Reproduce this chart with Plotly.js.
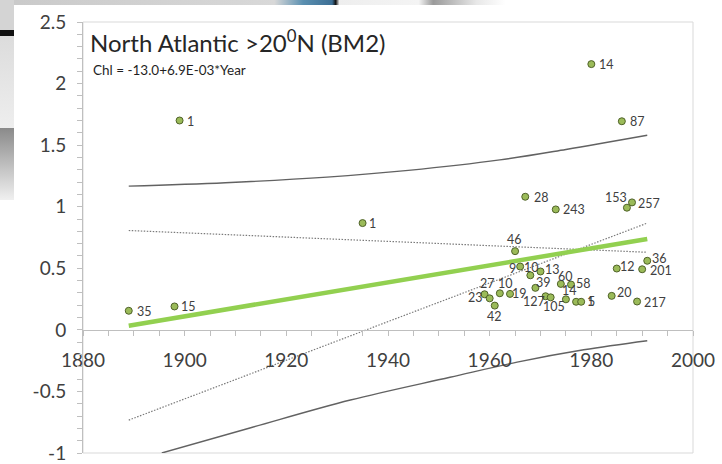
<!DOCTYPE html>
<html>
<head>
<meta charset="utf-8">
<script src="https://cdn.plot.ly/plotly-3.0.1.min.js"></script>
<style>
  html, body { margin: 0; padding: 0; width: 722px; height: 464px; overflow: hidden; background: #ffffff; }
  .bg { position: absolute; }
  #chart { position: absolute; left: 0; top: 0; width: 722px; height: 464px; }
</style>
</head>
<body>
<div class="bg" style="left:0;top:0;width:722px;height:5px;background:linear-gradient(90deg,#c9c9c9 0%,#d8d8d8 38%,#5a8fb0 42%,#3c6e94 46%,#111 46.5%,#eee 47%,#f4f4f4 58%,#9a9a9a 60%,#e8e8e8 66%,#ffffff 70%);"></div>
<div class="bg" style="left:0;top:0;width:14px;height:30px;background:#d4d4d4;"></div>
<div class="bg" style="left:0;top:30px;width:14px;height:6px;background:#111;"></div>
<div class="bg" style="left:0;top:36px;width:14px;height:92px;background:linear-gradient(180deg,#dcdcdc,#eeeeee);"></div>
<div class="bg" style="left:0;top:128px;width:14px;height:72px;background:linear-gradient(180deg,#8a8a8a,#f0f0f0);"></div>
<div id="chart"></div>
<script>
// ---- data ----
const pointYears  = [1889, 1898, 1899, 1935, 1980, 1986, 1967, 1973, 1987, 1988,
                     1965, 1966, 1968, 1970, 1969, 1974, 1976, 1975, 1959, 1960,
                     1961, 1962, 1964, 1971, 1972, 1977, 1978, 1985, 1990, 1991,
                     1984, 1989];
const pointChl    = [0.155, 0.19, 1.70, 0.867, 2.158, 1.694, 1.081, 0.978, 0.992, 1.035,
                     0.639, 0.514, 0.443, 0.474, 0.341, 0.373, 0.368, 0.248, 0.289, 0.256,
                     0.197, 0.297, 0.292, 0.273, 0.264, 0.228, 0.228, 0.498, 0.492, 0.561,
                     0.276, 0.230];
const pointLabels = ['35', '15', '1', '1', '14', '87', '28', '243', '153', '257',
                     '46', '9', '10', '13', '39', '60', '58', '14', '23', '27',
                     '42', '10', '19', '127', '105', '1', '5', '12', '201', '36',
                     '20', '217'];

const fitYears = [1889, 1991];
const fitChl   = [0.034, 0.738];

const upperYears = [1889, 1908, 1928, 1944, 1962, 1975, 1991];
const upperChl   = [1.167, 1.195, 1.24, 1.295, 1.38, 1.465, 1.58];

const lowerYears = [1895.5, 1913, 1932.6, 1952.2, 1965.4, 1978.5, 1991];
const lowerChl   = [-1.0, -0.795, -0.57, -0.385, -0.262, -0.162, -0.088];

const dotUpperYears = [1889, 1991];
const dotUpperChl   = [0.807, 0.63];
const dotLowerYears = [1889, 1991];
const dotLowerChl   = [-0.733, 0.867];

const xTickVals = [1880, 1900, 1920, 1940, 1960, 1980, 2000];
const yTickVals = [-1, -0.5, 0, 0.5, 1, 1.5, 2, 2.5];
const yTickText = ['-1', '-0.5', '0', '0.5', '1', '1.5', '2', '2.5'];

const titleText = 'North Atlantic >20<sup>0</sup>N (BM2)';
const eqText = 'Chl = -13.0+6.9E-03*Year';

// ---- styling: label centre offsets from each point, in pixels [right, down] ----
const labelOffsets = [[16, 1], [14, 0], [11, 1], [10, 0], [15, 0], [16, 0], [16, 1], [18, 0], [-11, -10], [17, 1],
                      [-1, -12], [-8, 2], [1, -8], [12, -2], [8, -5], [5, -7], [12, -1], [4, -9], [-9, 3], [-2, -15],
                      [0, 11], [6, -10], [9, 0], [-12, 5], [3, 9], [14, 0], [10, 0], [11, -2], [19, 1], [12, -2],
                      [13, -3], [18, 1]];

const FONT = 'Lato, "Open Sans", sans-serif';

const traces = [
  { x: dotUpperYears, y: dotUpperChl, mode: 'lines', line: {color: '#7a7a7a', width: 1.2, dash: '1.5px,1.5px'}, hoverinfo: 'skip' },
  { x: dotLowerYears, y: dotLowerChl, mode: 'lines', line: {color: '#7a7a7a', width: 1.2, dash: '1.5px,1.5px'}, hoverinfo: 'skip' },
  { x: upperYears, y: upperChl, mode: 'lines', line: {color: '#626262', width: 1.4, shape: 'spline'}, hoverinfo: 'skip' },
  { x: lowerYears, y: lowerChl, mode: 'lines', line: {color: '#626262', width: 1.4, shape: 'spline'}, hoverinfo: 'skip' },
  { x: fitYears, y: fitChl, mode: 'lines', line: {color: '#92d050', width: 4.5}, hoverinfo: 'skip' },
  { x: pointYears, y: pointChl, mode: 'markers',
    marker: {size: 7, color: '#9bbb59', line: {color: '#4f6228', width: 1}}, cliponaxis: false }
];

const labelAnnotations = pointLabels.map((t, i) => ({
  text: t, x: pointYears[i], y: pointChl[i], xref: 'x', yref: 'y',
  xanchor: 'center', yanchor: 'middle', showarrow: false,
  xshift: labelOffsets[i][0], yshift: -labelOffsets[i][1],
  font: {family: FONT, size: 12.5, color: '#404040'}
}));

const layout = {
  width: 722, height: 464,
  margin: {l: 83, r: 29, t: 22, b: 11, pad: 0},
  paper_bgcolor: 'rgba(0,0,0,0)',
  plot_bgcolor: 'rgba(0,0,0,0)',
  showlegend: false,
  font: {family: FONT, color: '#404040'},
  title: {text: titleText, x: 90/722, xanchor: 'left', xref: 'container',
          y: 1 - 44/464, yanchor: 'middle', yref: 'container',
          font: {family: FONT, size: 24, color: '#262626'}},
  xaxis: {range: [1880, 2000], anchor: 'free', position: 1/3.5,
          showline: true, linecolor: '#bfbfbf', linewidth: 1,
          tickmode: 'array', tickvals: xTickVals,
          ticks: 'outside', ticklen: 5, tickcolor: '#bfbfbf', tickwidth: 1,
          minor: {dtick: 5, tick0: 1880, ticks: 'outside', ticklen: 5, tickcolor: '#bfbfbf', tickwidth: 1, showgrid: false},
          showgrid: false, zeroline: false, ticklabelstandoff: 8,
          tickfont: {family: FONT, size: 19, color: '#404040'}},
  yaxis: {range: [-1, 2.5], showline: true, linecolor: '#bfbfbf', linewidth: 1,
          tickmode: 'array', tickvals: yTickVals, ticktext: yTickText,
          ticks: 'outside', ticklen: 5, tickcolor: '#bfbfbf', tickwidth: 1,
          minor: {dtick: 0.1, tick0: -1, ticks: 'outside', ticklen: 5, tickcolor: '#bfbfbf', tickwidth: 1, showgrid: false},
          showgrid: false, zeroline: false, ticklabelstandoff: 7,
          tickfont: {family: FONT, size: 19, color: '#404040'}},
  shapes: [
    {type: 'rect', xref: 'paper', yref: 'paper', x0: -69/610, x1: 1 + 29/610, y0: -11/431, y1: 1 + 17/431,
     fillcolor: '#ffffff', line: {width: 0}, layer: 'below'},
    {type: 'rect', xref: 'paper', yref: 'paper', x0: 0, x1: 1, y0: 0, y1: 1,
     line: {color: '#d9d9d9', width: 1}, layer: 'below'}
  ],
  annotations: [
    {text: eqText, xref: 'paper', yref: 'paper', x: 8/610, y: 1 - 48/431, xanchor: 'left', yanchor: 'middle',
     showarrow: false, font: {family: FONT, size: 13.5, color: '#1f1f1f'}}
  ].concat(labelAnnotations)
};

Plotly.newPlot('chart', traces, layout, {displayModeBar: false, staticPlot: true});
</script>
</body>
</html>
